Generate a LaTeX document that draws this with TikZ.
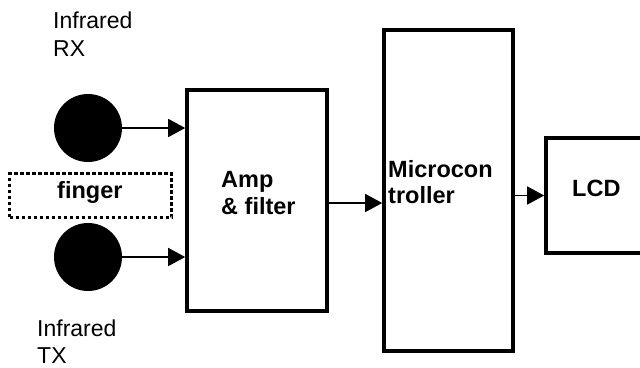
\documentclass[tikz,border=0pt]{standalone}
\usepackage{fontspec}
\setmainfont{Liberation Sans}
\usetikzlibrary{arrows.meta}
\begin{document}
\begin{tikzpicture}[x=1pt,y=-1pt,
  blockbox/.style={draw=black,line width=3.6pt,minimum width=#1,inner sep=0pt},
  dot/.style={circle,fill=black,minimum size=68pt,inner sep=0pt},
  fingerbox/.style={draw=black,line width=3.2pt,dash pattern=on 3.5pt off 2.5pt,minimum width=162pt,minimum height=44pt,inner sep=0pt},
  arr/.style={line width=1.5pt,-{Triangle[length=17pt,width=18pt]}},
  lbl/.style={anchor=base west,inner sep=0pt,font=\fontsize{23}{27}\selectfont},
  blbl/.style={anchor=base west,inner sep=0pt,font=\fontsize{23.5}{27}\selectfont\bfseries}]
\useasboundingbox (0,0) rectangle (640,367);
\clip (0,0) rectangle (640,367);
\node[dot] (rx) at (88,128) {};
\node[dot] (tx) at (88,257) {};
\node[fingerbox] (finger) at (90.5,195.5) {};
\node[blockbox=140pt,minimum height=221pt] (amp) at (257,200.5) {};
\node[blockbox=129pt,minimum height=321pt] (micro) at (448.5,190.5) {};
\node[blockbox=114pt,minimum height=115pt] (lcd) at (603,195.5) {};
\node[lbl] (rx1) at (53,28) {Infrared};
\node[lbl] (rx2) at (53,56) {RX};
\node[lbl] (tx1) at (37,336) {Infrared};
\node[lbl] (tx2) at (37,363) {TX};
\node[blbl] (fingert) at (57,198) {finger};
\node[blbl] (amp1) at (221,187) {Amp};
\node[blbl] (amp2) at (221,214) {\& filter};
\node[blbl] (mc1) at (388,177) {Microcon};
\node[blbl] (mc2) at (388,203) {troller};
\node[blbl] (lcdt) at (572,196) {LCD};
\draw[arr] (rx.east) -- (rx.east -| amp.west);
\draw[arr] (tx.east) -- (tx.east -| amp.west);
\draw[arr] ([yshift=-2.5pt]amp.east) -- ([yshift=-2.5pt]amp.east -| micro.west);
\draw[arr] (lcd.west -| micro.east) -- (lcd.west);
\end{tikzpicture}
\end{document}
